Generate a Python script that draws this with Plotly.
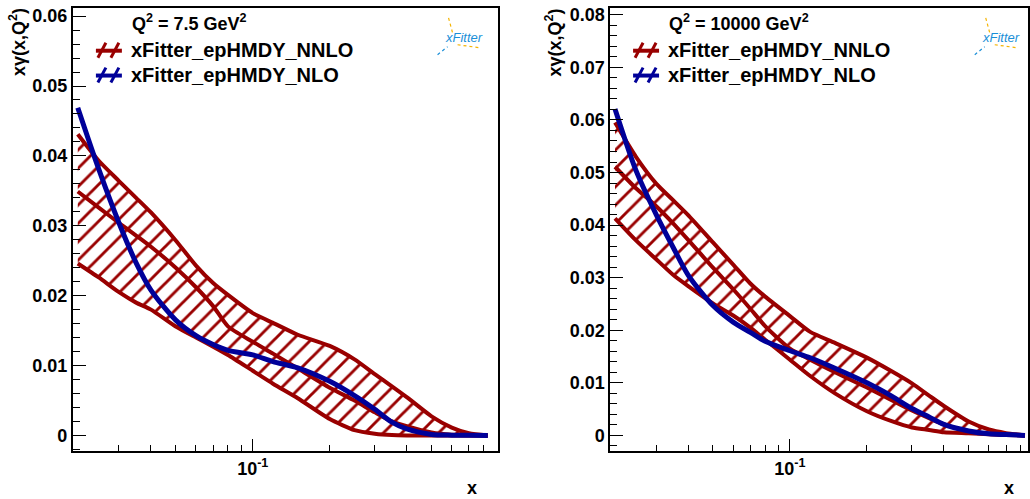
import numpy as np
import plotly.graph_objects as go

# ---------------- data ----------------
x_vals = [0.0207, 0.025, 0.03, 0.035, 0.04, 0.05, 0.06, 0.07, 0.08, 0.1, 0.12, 0.15,
          0.2, 0.25, 0.3, 0.35, 0.4, 0.5, 0.6, 0.7, 0.83]

# Q2 = 7.5 GeV2
q75_nlo = [0.0469, 0.0381, 0.0304, 0.0247, 0.0208, 0.0165, 0.01427, 0.0130, 0.01216, 0.01152,
           0.01057, 0.00967, 0.00774, 0.00569, 0.00373, 0.00189, 0.00092, 0.00014, 0.00003, 0.00001, 0.0]
q75_nnlo_up = [0.0431, 0.0393, 0.0364, 0.0340, 0.0319, 0.0279, 0.0243, 0.0218, 0.0201, 0.0175,
               0.0161, 0.0144, 0.0128, 0.01087, 0.00876, 0.00703, 0.00548, 0.00273, 0.00112, 0.00031, 0.0]
q75_nnlo_cen = [0.0349, 0.0326, 0.0304, 0.0286, 0.0270, 0.0240, 0.0212, 0.0185, 0.0156, 0.0134,
                0.0117, 0.00957, 0.00683, 0.00498, 0.00331, 0.0020, 0.00132, 0.00043, 0.0001, 0.00003, 0.0]
q75_nnlo_lo = [0.0246, 0.0226, 0.0205, 0.0190, 0.0180, 0.01558, 0.0140, 0.0127, 0.0115, 0.00925,
               0.0074, 0.00532, 0.00233, 0.00075, 0.00024, 0.00004, 0.0, 0.0, 0.0, 0.0, 0.0]

# Q2 = 10000 GeV2
q1e4_nlo = [0.0621, 0.0504, 0.0420, 0.0357, 0.0305, 0.0247, 0.02155, 0.0196, 0.0179, 0.0161,
            0.01477, 0.01278, 0.0100, 0.00746, 0.00513, 0.0035, 0.0021, 0.00085, 0.0003, 0.00015, 0.0]
q1e4_nnlo_up = [0.0595, 0.0530, 0.0479, 0.0447, 0.0419, 0.0367, 0.0325, 0.0289, 0.0264, 0.0227,
                0.0197, 0.0176, 0.0148, 0.0122, 0.0099, 0.00758, 0.00559, 0.00265, 0.00112, 0.00044, 0.0]
q1e4_nnlo_cen = [0.0511, 0.0470, 0.0436, 0.0403, 0.0372, 0.0319, 0.0278, 0.0241, 0.0208, 0.0165,
                 0.0144, 0.0120, 0.0091, 0.0067, 0.00475, 0.0033, 0.0021, 0.0008, 0.00034, 0.0002, 0.0]
q1e4_nnlo_lo = [0.0413, 0.0371, 0.0335, 0.0305, 0.0284, 0.0251, 0.0228, 0.0205, 0.0182, 0.0144,
                0.0113, 0.0080, 0.0046, 0.0027, 0.0015, 0.00104, 0.0006, 0.0004, 0.0002, 0.0001, 0.0]

panel_titles = ["Q<sup>2</sup> = 7.5 GeV<sup>2</sup>", "Q<sup>2</sup> = 10000 GeV<sup>2</sup>"]
series_names = ["xFitter_epHMDY_NNLO", "xFitter_epHMDY_NLO"]
y_ticks_left = [0, 0.01, 0.02, 0.03, 0.04, 0.05, 0.06]
y_ticks_right = [0, 0.01, 0.02, 0.03, 0.04, 0.05, 0.06, 0.07, 0.08]
x_minor_ticks = [0.03, 0.04, 0.05, 0.06, 0.07, 0.08, 0.09, 0.2, 0.3, 0.4, 0.5, 0.6, 0.7, 0.8, 0.9]

# ---------------- style ----------------
W, H = 1030, 499
RED = "#990000"
BLUE = "#000099"
FONT = "Liberation Sans"

def px(x):
    return x / W

def py(y):
    return 1 - y / H

fig = go.Figure()

panels = [
    dict(xa="x", ya="y", up=q75_nnlo_up, cen=q75_nnlo_cen, lo=q75_nnlo_lo, nlo=q75_nlo),
    dict(xa="x2", ya="y2", up=q1e4_nnlo_up, cen=q1e4_nnlo_cen, lo=q1e4_nnlo_lo, nlo=q1e4_nlo),
]

for p in panels:
    fig.add_trace(go.Scatter(x=x_vals, y=p["lo"], mode="lines", line=dict(color=RED, width=4, shape="spline", smoothing=0.6),
                             xaxis=p["xa"], yaxis=p["ya"], showlegend=False, hoverinfo="skip"))
    fig.add_trace(go.Scatter(x=x_vals, y=p["up"], mode="lines", line=dict(color=RED, width=4, shape="spline", smoothing=0.6),
                             fill="tonexty", fillcolor="rgba(255,255,255,0)",
                             fillpattern=dict(shape="/", fgcolor=RED, bgcolor="rgba(255,255,255,0)",
                                              fgopacity=1, size=13, solidity=0.22),
                             xaxis=p["xa"], yaxis=p["ya"], showlegend=False, hoverinfo="skip"))
    fig.add_trace(go.Scatter(x=x_vals, y=p["cen"], mode="lines", line=dict(color=RED, width=4, shape="spline", smoothing=0.6),
                             xaxis=p["xa"], yaxis=p["ya"], showlegend=False, hoverinfo="skip"))
    fig.add_trace(go.Scatter(x=x_vals, y=p["nlo"], mode="lines", line=dict(color=BLUE, width=5, shape="spline", smoothing=0.8),
                             xaxis=p["xa"], yaxis=p["ya"], showlegend=False, hoverinfo="skip"))

tickfont = dict(family=FONT, size=18, color="black", weight="bold")

def xaxis_cfg(domain, rng):
    return dict(domain=domain, type="log", range=rng, showline=True, linewidth=2, linecolor="black",
                mirror=True, showgrid=False, zeroline=False, ticks="inside", ticklen=12, tickwidth=1.2,
                tickcolor="black", tickmode="array", tickvals=[0.1], ticktext=["10<sup>-1</sup>"],
                tickfont=tickfont,
                minor=dict(ticks="inside", ticklen=6, tickwidth=1.2, tickcolor="black",
                           tickmode="array", tickvals=x_minor_ticks, showgrid=False))

def yaxis_cfg(domain, rng, ticks, anchor):
    return dict(domain=domain, range=rng, anchor=anchor, showline=True, linewidth=2, linecolor="black",
                mirror=True, showgrid=False, zeroline=False, ticks="inside", ticklen=13, tickwidth=1.2,
                tickcolor="black", tickmode="array", tickvals=ticks,
                ticktext=[("0" if t == 0 else f"{t:.2f}") for t in ticks],
                tickfont=tickfont,
                minor=dict(ticks="inside", ticklen=7, tickwidth=1.2, tickcolor="black", dtick=0.002,
                           tick0=0, showgrid=False))

ydom = [py(451), py(5)]
fig.update_layout(
    width=W, height=H, margin=dict(l=0, r=0, t=0, b=0), autosize=False,
    paper_bgcolor="white", plot_bgcolor="white", showlegend=False,
    xaxis=xaxis_cfg([px(73), px(498)], [-1.703, -0.043]),
    yaxis=yaxis_cfg(ydom, [-0.002276, 0.06117], y_ticks_left, "x"),
    xaxis2=dict(xaxis_cfg([px(611), px(1029)], [-1.702, -0.069]), anchor="y2"),
    yaxis2=yaxis_cfg(ydom, [-0.00302, 0.0813], y_ticks_right, "x2"),
)
fig.layout.xaxis.anchor = "y"

# ---------------- text / legend decorations ----------------
for off, title, ytx in [(0, panel_titles[0], 18), (537.7, panel_titles[1], 555)]:
    fig.add_annotation(x=px(130 + off), y=py(20), xref="paper", yref="paper", text=title,
                       showarrow=False, xanchor="left", yanchor="middle",
                       font=dict(family=FONT, size=18, color="black", weight="bold"))
    for i, (name, col) in enumerate(zip(series_names, [RED, BLUE])):
        yc = 47 + 25 * i
        fig.add_annotation(x=px(129 + off), y=py(yc), xref="paper", yref="paper", text=name,
                           showarrow=False, xanchor="left", yanchor="middle",
                           font=dict(family=FONT, size=20, color="black", weight="bold"))
        fig.add_shape(type="line", xref="paper", yref="paper", x0=px(96 + off), x1=px(122 + off),
                      y0=py(yc + 1), y1=py(yc + 1), line=dict(color=col, width=4))
        for sx in (98, 111):
            fig.add_shape(type="line", xref="paper", yref="paper", x0=px(sx + off), x1=px(sx + 8 + off),
                          y0=py(yc + 8), y1=py(yc - 7), line=dict(color=col, width=3))
    fig.add_annotation(x=px(ytx), y=py(3), xref="paper", yref="paper", text="x\u03b3(x,Q<sup>2</sup>)",
                       textangle=-90, showarrow=False, xanchor="center", yanchor="top",
                       font=dict(family=FONT, size=18, color="black", weight="bold"))
    fig.add_annotation(x=px(472 + off), y=py(488), xref="paper", yref="paper", text="x",
                       showarrow=False, xanchor="center", yanchor="middle",
                       font=dict(family=FONT, size=18, color="black", weight="bold"))
    # logo
    fig.add_annotation(x=px(464 + off), y=py(35), xref="paper", yref="paper", text="<i>xFitter</i>",
                       showarrow=False, xanchor="center", yanchor="middle",
                       font=dict(family=FONT, size=13, color="#1a8fd8"))
    fig.add_shape(type="line", xref="paper", yref="paper", x0=px(449 + off), x1=px(453 + off),
                  y0=py(15), y1=py(30), line=dict(color="#f5b400", width=1.2, dash="dot"))
    fig.add_shape(type="line", xref="paper", yref="paper", x0=px(458 + off), x1=px(480 + off),
                  y0=py(42), y1=py(45), line=dict(color="#f5b400", width=1.2, dash="dot"))
    fig.add_shape(type="line", xref="paper", yref="paper", x0=px(438 + off), x1=px(448 + off),
                  y0=py(52), y1=py(44), line=dict(color="#1a8fd8", width=1.2, dash="dot"))

fig.write_html("out.html", config={"displayModeBar": False},
               post_script="document.body.style.margin='0';document.body.style.padding='0';document.body.style.overflow='hidden';")
